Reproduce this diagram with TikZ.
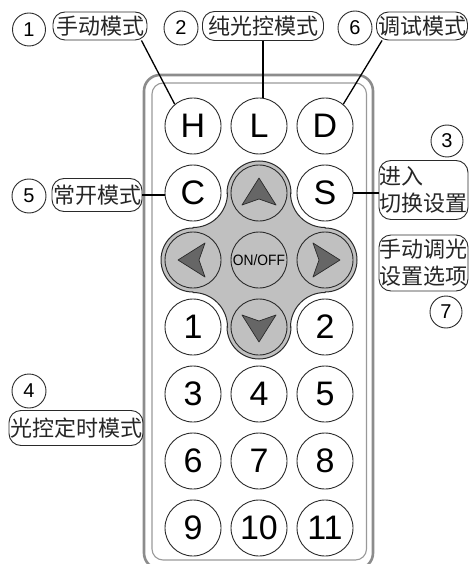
\documentclass[tikz,border=0pt]{standalone}
\usepackage{fontspec}
\setmainfont{Liberation Sans}
\newfontfamily\cjk{Noto Sans CJK SC}
\definecolor{dpad}{HTML}{C0C0C0}
\definecolor{arrowfill}{HTML}{666666}
\definecolor{edge}{HTML}{2A2A2A}
\begin{document}
\begin{tikzpicture}[x=1pt,y=1pt,
  btn/.style={circle, draw=edge, line width=0.9pt, minimum size=56pt, inner sep=0pt,
    font=\fontsize{34}{34}\selectfont, fill=white},
  gbtn/.style={btn, fill=dpad},
  lbl/.style={draw=edge, line width=0.9pt, rounded corners=12pt, inner sep=0pt,
    font=\cjk\fontsize{22}{27}\selectfont, text=black!85},
  num/.style={circle, draw=edge, line width=0.9pt, minimum size=33pt, inner sep=0pt,
    font=\fontsize{20}{20}\selectfont},
  conn/.style={line width=1.3pt, black},
  arr/.style={fill=arrowfill, draw=edge, line width=0.7pt, line join=round},
  outerbody/.style={draw=black!45, line width=2.6pt, rounded corners=16pt},
  innerbody/.style={draw=black!40, line width=1.1pt, rounded corners=11pt}
]
\useasboundingbox (0,0) rectangle (469,-564);

% remote body
\draw[outerbody] (144,-75) rectangle (373,-569);
\draw[innerbody] (152,-83) rectangle (366.5,-560);

% d-pad background
\draw[fill=dpad, draw=edge, line width=1pt]
  (227,-193) arc[start angle=180, end angle=0, radius=32]
  -- (290.5,-193) arc[start angle=180, end angle=270, radius=34.5]
  -- (325,-228) arc[start angle=90, end angle=-90, radius=32]
  -- (325,-292.5) arc[start angle=90, end angle=180, radius=34.5]
  -- (291,-327) arc[start angle=0, end angle=-180, radius=32]
  -- (227.5,-327) arc[start angle=0, end angle=90, radius=34.5]
  -- (193,-292) arc[start angle=-90, end angle=-270, radius=32]
  -- (193,-227.5) arc[start angle=270, end angle=360, radius=34.5]
  -- cycle;

% buttons
\node[btn] (H) at (193,-126) {H};
\node[btn] (L) at (259,-126) {L};
\node[btn] (D) at (325,-126) {D};
\node[btn] (C) at (193,-193) {C};
\node[gbtn] (Up) at (259,-193) {};
\node[btn] (S) at (325,-193) {S};
\node[gbtn] (Left) at (193,-260) {};
\node[gbtn, font=\fontsize{15}{15}\selectfont] (OnOff) at (259,-260) {\scalebox{0.92}[1]{ON/OFF}};
\node[gbtn] (Right) at (325,-260) {};
\node[btn] (b1) at (193,-327) {1};
\node[gbtn] (Down) at (259,-327) {};
\node[btn] (b2) at (325,-327) {2};
\node[btn] (b3) at (193,-394) {3};
\node[btn] (b4) at (259,-394) {4};
\node[btn] (b5) at (325,-394) {5};
\node[btn] (b6) at (193,-461) {6};
\node[btn] (b7) at (259,-461) {7};
\node[btn] (b8) at (325,-461) {8};
\node[btn] (b9) at (193,-528) {9};
\node[btn] (b10) at (259,-528) {10};
\node[btn] (b11) at (325,-528) {11};

% arrows
\draw[arr, shift={(Up.center)}, rotate=0] (0,15) -- (17,-12) -- (0,-6) -- (-17,-12) -- cycle;
\draw[arr, shift={(Left.center)}, rotate=90] (0,15) -- (17,-12) -- (0,-6) -- (-17,-12) -- cycle;
\draw[arr, shift={(Down.center)}, rotate=180] (0,15) -- (17,-12) -- (0,-6) -- (-17,-12) -- cycle;
\draw[arr, shift={(Right.center)}, rotate=-90] (0,15) -- (17,-12) -- (0,-6) -- (-17,-12) -- cycle;

% labels
\node[num] (n1) at (29,-29.5) {1};
\node[lbl, minimum width=94pt, minimum height=28pt] (box1) at (100,-26) {手动模式};
\node[num, minimum size=34pt] (n2) at (181,-28) {2};
\node[lbl, minimum width=121pt, minimum height=29pt] (box2) at (263,-26) {纯光控模式};
\node[num, minimum size=34pt] (n6) at (355,-28) {6};
\node[lbl, minimum width=91pt, minimum height=28pt] (box6) at (422,-26) {调试模式};

\node[num, minimum size=34pt] (n5) at (29,-196) {5};
\node[lbl, minimum width=90pt, minimum height=33pt] (box5) at (97,-195) {常开模式};

\node[num, minimum size=34pt] (n4) at (29,-391) {4};
\node[lbl, minimum width=134pt, minimum height=35pt] (box4) at (76,-428) {光控定时模式};

\node[num, minimum size=32pt] (n3) at (447,-141) {3};
\node[lbl, minimum width=89pt, minimum height=59pt, align=left] (box3) at (423.5,-190) {进入\\切换设置};

\node[lbl, minimum width=89pt, minimum height=56pt, align=left] (box7) at (423.5,-263) {手动调光\\设置选项};
\node[num, minimum size=32pt] (n7) at (446,-312) {7};

% connectors
\draw[conn] ([xshift=-6pt]box1.south east) -- (H.130);
\draw[conn] (box2.south) -- (box2.south |- L.north);
\draw[conn] ([xshift=6pt]box6.south west) -- (D.50);
\draw[conn] (box5.east) -- (box5.east -| C.west);
\draw[conn] (S.east) -- (S.east -| box3.west);
\end{tikzpicture}
\end{document}
